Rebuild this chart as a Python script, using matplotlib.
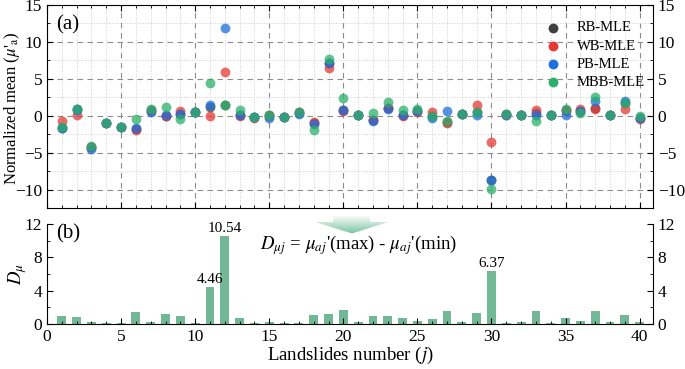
import numpy as np
import matplotlib
matplotlib.use('Agg')
import matplotlib.pyplot as plt
from matplotlib.patches import Polygon
from matplotlib.colors import LinearSegmentedColormap
from matplotlib.ticker import MultipleLocator

plt.rcParams.update({'font.family': 'Liberation Serif', 'mathtext.fontset': 'stix',
                     'font.size': 12.5, 'xtick.direction': 'in', 'ytick.direction': 'in'})

# data
landslide = np.arange(1, 41)
rb_mle = [-1.6, 0.9, -4.2, -1.0, -1.5, -1.75, 0.8, 0.0, 0.3, 0.5,
          1.2, 1.4, 0.1, -0.2, 0.1, -0.2, 0.45, -1.0, 7.2, 0.8,
          0.1, -0.6, 1.0, 0.05, 0.7, 0.0, -0.9, 0.2, 0.5, -8.7,
          0.2, 0.1, 0.4, 0.15, 0.8, 0.7, 1.0, 0.1, 1.7, -0.3]
wb_mle = [-0.65, 0.05, -4.2, -1.0, -1.5, -2.0, 0.7, -0.1, 0.6, 0.5,
          -0.1, 5.9, 0.0, -0.25, -0.1, -0.2, 0.4, -0.8, 6.5, 0.7,
          0.1, -0.6, 1.0, 0.0, 0.45, 0.5, -1.0, 0.2, 1.45, -3.6,
          0.15, 0.1, 0.8, 0.15, 0.6, 0.85, 0.95, 0.1, 0.85, -0.5]
pb_mle = [-1.7, 0.8, -4.45, -1.05, -1.5, -1.7, 0.55, 0.1, 0.3, 0.5,
          1.4, 11.9, 0.1, -0.2, -0.25, -0.2, 0.3, -1.1, 7.1, 0.75,
          0.1, -0.65, 0.95, 0.1, 0.6, -0.3, 0.6, 0.2, 0.15, -8.7,
          0.15, 0.1, 0.15, 0.15, 0.15, 0.7, 1.95, 0.1, 2.0, -0.3]
mbb_mle = [-1.55, 0.95, -4.05, -1.0, -1.5, -0.4, 0.85, 1.2, -0.4, 0.5,
           4.4, 1.4, 0.75, -0.15, 0.1, -0.15, 0.5, -1.9, 7.7, 2.35,
           0.15, 0.35, 1.85, 0.8, 0.85, -0.1, -0.75, 0.25, 0.5, -9.95,
           0.2, 0.15, -0.75, 0.15, 0.85, 0.4, 2.55, 0.1, 1.7, -0.1]
d_mu = [1.0, 0.88, 0.28, 0.16, 0.16, 1.48, 0.28, 1.24, 0.96, 0.16,
        4.46, 10.54, 0.76, 0.16, 0.28, 0.16, 0.16, 1.08, 1.2, 1.64,
        0.28, 0.92, 0.92, 0.72, 0.4, 0.64, 1.6, 0.24, 1.32, 6.37,
        0.16, 0.24, 1.56, 0.12, 0.72, 0.36, 1.6, 0.2, 1.04, 0.24]
labelled = {11: '4.46', 12: '10.54', 30: '6.37'}

series = [('RB-MLE', rb_mle, '#3f3f3f'), ('WB-MLE', wb_mle, '#e53935'),
          ('PB-MLE', pb_mle, '#1f6fdd'), ('MBB-MLE', mbb_mle, '#2bb06a')]
BAR = '#72b897'

fig = plt.figure(figsize=(6.85, 3.69), dpi=100)
W, H = 685, 369
ax1 = fig.add_axes([47 / W, 1 - 208 / H, 606 / W, 203 / H])
ax2 = fig.add_axes([47 / W, 1 - 324 / H, 606 / W, 100 / H])

# (a) normalized means
for name, vals, c in series:
    ax1.scatter(landslide, vals, s=50, color=c, alpha=0.75, lw=0, zorder=3)
    ax1.scatter([], [], s=50, color=c, lw=0, label=name)
ax1.set_xlim(0, 40.9)
ax1.set_ylim(-12.5, 15)
ax1.xaxis.set_major_locator(MultipleLocator(5))
ax1.xaxis.set_minor_locator(MultipleLocator(1))
ax1.yaxis.set_major_locator(MultipleLocator(5))
ax1.yaxis.set_minor_locator(MultipleLocator(2.5))
ax1.grid(True, which='major', color='#8c8c8c', ls=(0, (5, 4)), lw=0.8)
ax1.grid(True, which='minor', color='#cfcfcf', ls=':', lw=0.7)
ax1.set_axisbelow(True)
ax1.tick_params(which='both', top=True, right=True, labelright=True, labelbottom=False)
ax1.tick_params(which='major', length=4)
ax1.tick_params(which='minor', length=2)
ax1.set_yticks([-10, -5, 0, 5, 10, 15])
ax1.set_ylabel("Normalized mean ($\\mu$'$_{\\rm a}$)", fontsize=12)
ax1.yaxis.set_label_coords(-0.042, 0.49)
ax1.text(0.015, 0.95, '(a)', transform=ax1.transAxes, fontsize=15, va='top')
ax1.legend(loc='upper right', frameon=False, fontsize=10.5, handletextpad=0.6,
           labelspacing=0.35, borderaxespad=0.5, bbox_to_anchor=(1.008, 0.985))

# (b) spread between estimators
ax2.bar(landslide, d_mu, width=0.6, color=BAR, zorder=1)
for j, txt in labelled.items():
    ax2.text(j, d_mu[j - 1] + 0.15, txt, ha='center', va='bottom', fontsize=11)
ax2.set_xlim(0, 40.9)
ax2.set_ylim(0, 12)
ax2.spines['top'].set_visible(False)
ax2.xaxis.set_major_locator(MultipleLocator(5))
ax2.xaxis.set_minor_locator(MultipleLocator(1))
ax2.yaxis.set_major_locator(MultipleLocator(4))
ax2.yaxis.set_minor_locator(MultipleLocator(2))
ax2.tick_params(which='both', right=True, labelright=True)
ax2.tick_params(which='major', length=4)
ax2.tick_params(which='minor', length=2)
ax2.set_xlabel('Landslides number ($j$)', fontsize=13.5, labelpad=0)
ax2.set_ylabel('$D_{\\mu}$', fontsize=13.5)
ax2.yaxis.set_label_coords(-0.03, 0.5)
ax2.text(0.015, 1.0, '(b)', transform=ax2.transAxes, fontsize=15, va='top')
ax2.text(21.0, 9.5, "$D_{\\mu j}$ = $\\mu_{aj}$'(max) - $\\mu_{aj}$'(min)",
         ha='center', va='center', fontsize=13.5)

# gradient arrow between the panels
x0, x1, y0, y1 = 313, 390, 215, 234
axa = fig.add_axes([x0 / W, 1 - y1 / H, (x1 - x0) / W, (y1 - y0) / H])
axa.set_xlim(x0, x1); axa.set_ylim(y1, y0); axa.axis('off')
arrow = Polygon([(333, 216), (370, 216), (370, 222), (388, 222), (352, 233.5),
                 (315, 222), (333, 222)], closed=True, fc='none', ec='none')
axa.add_patch(arrow)
cmap = LinearSegmentedColormap.from_list('fade', ['#ffffff', '#78c2a0'])
grad = np.linspace(0, 1, 100).reshape(-1, 1)
im = axa.imshow(grad, cmap=cmap, extent=[x0, x1, y1, y0], aspect='auto', origin='upper')
im.set_clip_path(arrow)

plt.savefig('out.png', dpi=100)
plt.close()
